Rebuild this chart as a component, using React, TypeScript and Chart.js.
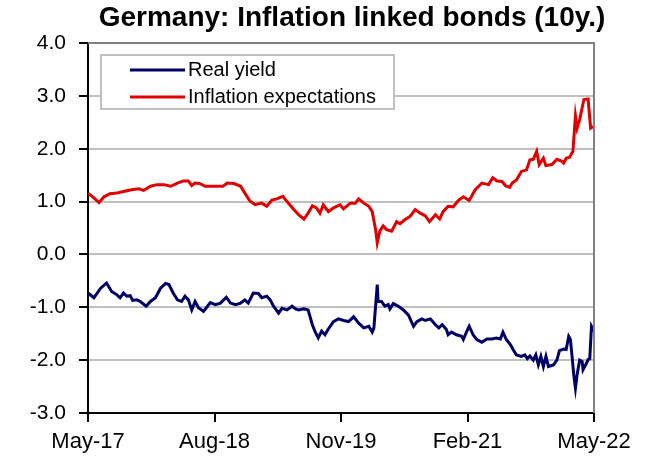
import React, { useEffect, useRef } from "react";
import { Chart, registerables } from "chart.js";

Chart.register(...registerables);

const TITLE = "Germany: Inflation linked bonds (10y.)";
const SERIES_NAMES = ["Real yield", "Inflation expectations"];
const SERIES_COLORS = ["#000066", "#e00000"];
const X_TICK_LABELS = ["May-17", "Aug-18", "Nov-19", "Feb-21", "May-22"];
const Y_MIN = -3;
const Y_MAX = 4;

// x = months since May-17
const realMonths = [
  0, 0.7, 1.5, 2.2, 2.8, 3.4, 3.8, 4.2, 4.6, 5.0, 5.3, 5.8, 6.2, 6.9, 7.4, 8.0, 8.6, 9.2, 9.6, 10.1,
  10.6, 11.1, 11.5, 11.9, 12.3, 12.7, 13.1, 13.7, 14.5, 15.1, 15.7, 16.4, 16.9, 17.5, 18.1, 18.6, 19.0, 19.6, 20.2, 20.6,
  21.2, 21.6, 22.0, 22.6, 23.0, 23.6, 24.2, 24.6, 25.0, 25.6, 26.1, 26.6, 26.9, 27.3, 27.7, 28.1, 28.5, 29.1, 29.7, 30.3,
  30.9, 31.5, 32.1, 32.7, 33.3, 33.7, 33.9, 34.3, 34.4, 34.8, 35.2, 35.6, 35.8, 36.2, 36.8, 37.4, 38.0, 38.6, 39.0, 39.6,
  40.0, 40.6, 41.2, 41.6, 42.0, 42.5, 42.7, 43.1, 43.7, 44.3, 44.5, 44.9, 45.2, 45.7, 46.1, 46.7, 47.3, 47.9, 48.4, 48.9,
  49.2, 49.6, 50.1, 50.4, 50.8, 51.4, 51.8, 52.1, 52.4, 52.8, 53.1, 53.4, 53.7, 54.0, 54.3, 54.6, 55.2, 55.6, 55.9, 56.4,
  56.7, 57.0, 57.2, 57.4, 57.6, 57.8, 58.0, 58.3, 58.6, 58.7, 59.1, 59.3, 59.5, 59.7, 60.0,
];
const realValues = [
  -0.73, -0.82, -0.64, -0.54, -0.7, -0.76, -0.82, -0.73, -0.79, -0.78, -0.87, -0.86, -0.89, -0.98, -0.89, -0.82, -0.64, -0.55, -0.57, -0.73,
  -0.86, -0.89, -0.79, -0.86, -1.05, -0.89, -1.01, -1.08, -0.91, -0.95, -0.92, -0.81, -0.92, -0.95, -0.92, -0.86, -0.92, -0.73, -0.74, -0.82,
  -0.79, -0.86, -0.98, -1.11, -1.02, -1.05, -0.98, -1.03, -1.05, -1.03, -1.05, -1.33, -1.45, -1.58, -1.45, -1.52, -1.41, -1.27, -1.22, -1.25,
  -1.27, -1.18, -1.3, -1.39, -1.36, -1.47, -1.39, -0.57, -0.89, -0.89, -0.98, -0.95, -1.03, -0.93, -0.98, -1.05, -1.15, -1.36, -1.27, -1.22,
  -1.25, -1.22, -1.33, -1.39, -1.33, -1.42, -1.52, -1.47, -1.52, -1.55, -1.61, -1.46, -1.36, -1.53, -1.61, -1.66, -1.6, -1.6, -1.58, -1.6,
  -1.47, -1.61, -1.71, -1.8, -1.9, -1.93, -1.9, -1.97, -1.92, -2.0, -1.9, -2.09, -1.93, -2.12, -1.93, -2.12, -2.09, -2.0, -1.82, -1.79,
  -1.8, -1.55, -1.61, -1.93, -2.28, -2.53, -2.27, -2.0, -2.03, -2.18, -2.06, -1.99, -1.97, -1.36, -1.45,
];

const inflMonths = [
  0, 0.7, 1.3, 1.9, 2.6, 3.4, 4.2, 5.0, 6.0, 6.6, 7.4, 8.2, 9.0, 9.8, 10.6, 11.3, 11.9, 12.3, 12.7, 13.3,
  13.9, 14.9, 16.0, 16.5, 17.3, 18.1, 18.6, 19.2, 19.8, 20.6, 21.2, 21.8, 22.4, 23.1, 23.6, 24.4, 25.0, 25.6, 26.1, 26.6,
  27.1, 27.5, 27.9, 28.5, 29.1, 29.9, 30.3, 31.1, 31.7, 32.1, 32.7, 33.3, 33.7, 34.1, 34.3, 34.6, 35.0, 35.4, 36.0, 36.6,
  37.0, 37.6, 38.2, 38.8, 39.4, 40.0, 40.5, 41.2, 41.7, 42.1, 42.7, 43.3, 43.9, 44.5, 45.2, 45.9, 46.7, 47.5, 48.0, 48.5,
  49.1, 49.5, 50.0, 50.3, 50.8, 51.4, 52.0, 52.4, 52.8, 53.2, 53.5, 54.0, 54.3, 55.0, 55.6, 56.2, 56.4, 56.7, 57.1, 57.5,
  57.8, 58.0, 58.3, 58.8, 59.3, 59.6, 59.9,
];
const inflValues = [
  1.16, 1.07, 0.98, 1.09, 1.15, 1.16, 1.19, 1.22, 1.24, 1.21, 1.29, 1.32, 1.32, 1.29, 1.35, 1.39, 1.39, 1.3, 1.35, 1.34,
  1.29, 1.29, 1.29, 1.35, 1.34, 1.29, 1.16, 1.01, 0.94, 0.97, 0.91, 1.03, 1.05, 1.1, 1.0, 0.85, 0.75, 0.67, 0.78, 0.92,
  0.88, 0.78, 0.94, 0.81, 0.88, 0.94, 0.86, 0.97, 0.97, 1.05, 0.97, 0.91, 0.81, 0.47, 0.22, 0.44, 0.54, 0.47, 0.44, 0.62,
  0.58, 0.66, 0.72, 0.85, 0.78, 0.73, 0.62, 0.75, 0.67, 0.81, 0.91, 0.9, 1.02, 1.09, 1.02, 1.22, 1.35, 1.32, 1.45, 1.39,
  1.38, 1.3, 1.27, 1.35, 1.41, 1.57, 1.6, 1.79, 1.8, 1.95, 1.7, 1.82, 1.68, 1.7, 1.8, 1.76, 1.73, 1.82, 1.84, 1.95,
  2.62, 2.39, 2.55, 2.93, 2.94, 2.39, 2.42,
];

const FONT = '"Liberation Sans", Arial, Helvetica, sans-serif';

const decorPlugin = {
  id: "decor",
  afterDatasetsDraw(chart: any) {
    const { ctx, chartArea } = chart;
    const { left, right, top, bottom } = chartArea;
    ctx.save();
    // gray frame top & right
    ctx.strokeStyle = "#808080";
    ctx.lineWidth = 2;
    ctx.beginPath();
    ctx.moveTo(left, top);
    ctx.lineTo(right, top);
    ctx.lineTo(right, bottom);
    ctx.stroke();
    // legend box
    const bx = 101, by = 55, bw = 293, bh = 54;
    ctx.fillStyle = "#ffffff";
    ctx.fillRect(bx, by, bw, bh);
    ctx.strokeStyle = "#c0c0c0";
    ctx.lineWidth = 2;
    ctx.strokeRect(bx, by, bw, bh);
    ctx.font = `20px ${FONT}`;
    ctx.textBaseline = "middle";
    ctx.textAlign = "left";
    SERIES_NAMES.forEach((name, i) => {
      const y = by + 15 + i * 27;
      ctx.strokeStyle = SERIES_COLORS[i];
      ctx.lineWidth = 3;
      ctx.beginPath();
      ctx.moveTo(130, y);
      ctx.lineTo(185, y);
      ctx.stroke();
      ctx.fillStyle = "#000";
      ctx.fillText(name, 188, y);
    });
    // title
    ctx.font = `bold 28px ${FONT}`;
    ctx.textAlign = "center";
    ctx.textBaseline = "middle";
    ctx.fillStyle = "#000";
    ctx.fillText(TITLE, 352, 18);
    ctx.restore();
  },
};

export default function App() {
  const ref = useRef<HTMLCanvasElement>(null);
  useEffect(() => {
    const canvas = ref.current!;
    const chart = new Chart(canvas, {
      type: "line",
      data: {
        datasets: [
          {
            label: SERIES_NAMES[0],
            data: realMonths.map((m, i) => ({ x: m, y: realValues[i] })),
            borderColor: SERIES_COLORS[0],
            borderWidth: 3,
            pointRadius: 0,
            tension: 0,
          },
          {
            label: SERIES_NAMES[1],
            data: inflMonths.map((m, i) => ({ x: m, y: inflValues[i] })),
            borderColor: SERIES_COLORS[1],
            borderWidth: 3,
            pointRadius: 0,
            tension: 0,
          },
        ],
      },
      options: {
        animation: false,
        responsive: false,
        devicePixelRatio: 1,
        layout: { padding: { top: 43, right: 57, left: 0, bottom: 0 } },
        plugins: { legend: { display: false }, title: { display: false }, tooltip: { enabled: false } },
        scales: {
          x: {
            type: "linear",
            min: 0,
            max: 60,
            afterFit(scale: any) {
              scale.height = 47;
            },
            afterBuildTicks(scale: any) {
              scale.ticks = X_TICK_LABELS.map((_, i) => ({ value: i * 15 }));
            },
            ticks: {
              autoSkip: false,
              maxRotation: 0,
              color: "#000",
              font: { family: FONT, size: 22 },
              padding: 7,
              callback: (v: any) => X_TICK_LABELS[Math.round(Number(v) / 15)] ?? "",
            },
            grid: { drawOnChartArea: false, color: "#000", tickColor: "#000", tickLength: 9, lineWidth: 2 },
            border: { color: "#000", width: 2 },
          },
          y: {
            min: Y_MIN,
            max: Y_MAX,
            afterFit(scale: any) {
              scale.width = 88;
            },
            ticks: {
              stepSize: 1,
              color: "#000",
              font: { family: FONT, size: 21 },
              padding: 13,
              callback: (v: any) => Number(v).toFixed(1),
            },
            grid: { color: "#c0c0c0", tickColor: "#000", tickLength: 9, lineWidth: 2 },
            border: { color: "#000", width: 2 },
          },
        },
      },
      plugins: [decorPlugin],
    });
    return () => chart.destroy();
  }, []);
  return (
    <div style={{ position: "fixed", left: 0, top: 0, width: 651, height: 460, background: "#fff" }}>
      <canvas ref={ref} width={651} height={460} style={{ width: 651, height: 460, display: "block" }} />
    </div>
  );
}
